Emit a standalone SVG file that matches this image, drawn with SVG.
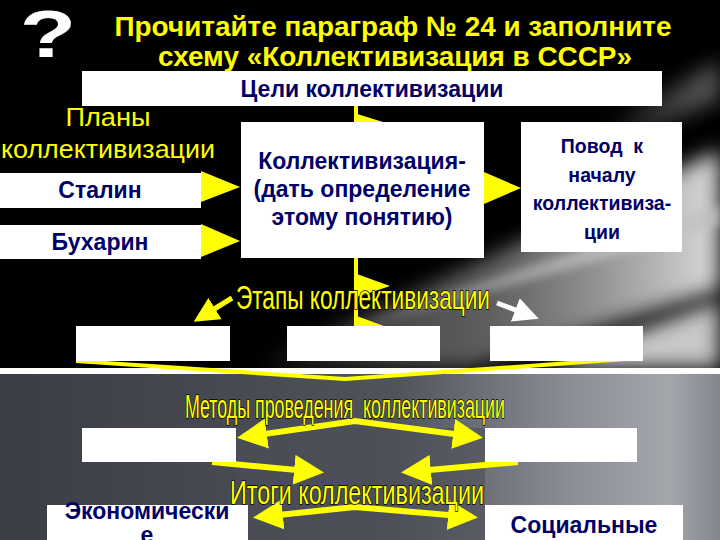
<svg xmlns="http://www.w3.org/2000/svg" width="720" height="540" viewBox="0 0 720 540">
<defs>
<style>
.box{fill:#ffffff}
.lbl{font-family:"Liberation Sans",Arial,sans-serif;font-weight:bold;font-size:23px;fill:#000066;text-anchor:middle}
.sm{font-size:19.5px}
.title{font-family:"Liberation Sans",Arial,sans-serif;font-weight:bold;font-size:28px;fill:#ffff00;text-anchor:middle}
.cap{font-family:"Liberation Sans",Arial,sans-serif;font-size:33px;fill:#ffff00;stroke:#000000;stroke-width:1.6;paint-order:stroke;text-anchor:middle}
.yl{stroke:#ffff00;fill:none}
.ytri{fill:#ffff00}
</style>
<linearGradient id="lowbg" x1="0" y1="0" x2="1" y2="0">
<stop offset="0" stop-color="#3a3d44"/>
<stop offset="0.55" stop-color="#50535b"/>
<stop offset="0.8" stop-color="#8d8f97"/>
<stop offset="0.93" stop-color="#a5a7ad"/>
<stop offset="1" stop-color="#83858c"/>
</linearGradient>
<linearGradient id="ray1" x1="0" y1="0" x2="1" y2="0">
<stop offset="0" stop-color="#ffffff" stop-opacity="0"/>
<stop offset="0.5" stop-color="#9a9a9a" stop-opacity="0.6"/>
<stop offset="1" stop-color="#dcdcdc" stop-opacity="1"/>
</linearGradient>
<linearGradient id="ray2" x1="0" y1="0" x2="1" y2="0">
<stop offset="0" stop-color="#ffffff" stop-opacity="0"/>
<stop offset="1" stop-color="#bdbdbd" stop-opacity="0.8"/>
</linearGradient>
<filter id="blur" x="-20%" y="-20%" width="140%" height="140%"><feGaussianBlur stdDeviation="10"/></filter>
<filter id="blur2" x="-20%" y="-20%" width="140%" height="140%"><feGaussianBlur stdDeviation="4"/></filter>
<marker id="ya" viewBox="0 0 10 10" refX="8" refY="5" markerWidth="5" markerHeight="5" orient="auto"><path d="M0,0 L10,5 L0,10 z" fill="#ffff00"/></marker>
<marker id="yb" viewBox="0 0 10 10" refX="8" refY="5" markerWidth="5" markerHeight="5" orient="auto-start-reverse"><path d="M0,0 L10,5 L0,10 z" fill="#ffff00"/></marker>
<marker id="wa" viewBox="0 0 10 10" refX="8" refY="5" markerWidth="5" markerHeight="5" orient="auto"><path d="M0,0 L10,5 L0,10 z" fill="#ffffff"/></marker>
</defs>

<!-- background -->
<rect x="0" y="0" width="720" height="368" fill="#000000"/>
<g id="rays">
<polygon points="250,368 720,150 720,290 470,368" fill="url(#ray1)" filter="url(#blur)"/>
<polygon points="330,330 720,205 720,225 360,330" fill="url(#ray2)" filter="url(#blur2)"/>
<polygon points="540,368 720,300 720,368" fill="#c8c8c8" filter="url(#blur)"/>
<polygon points="600,130 720,60 720,100 640,135" fill="url(#ray2)" filter="url(#blur)" opacity="0.6"/>
</g>
<rect x="0" y="368" width="720" height="6" fill="#ffffff"/>
<rect x="0" y="374" width="720" height="166" fill="url(#lowbg)"/>
<rect x="237" y="428" width="248" height="112" fill="#4c4f57" opacity="0.6"/>

<!-- title -->
<g id="title">
<text x="48" y="57" font-family="Liberation Sans,Arial,sans-serif" font-weight="bold" font-size="66" fill="#ffffff" text-anchor="middle" transform="translate(48 0) scale(1.4 1) translate(-48 0)">?</text>
<text class="title" x="393" y="36" textLength="557" lengthAdjust="spacingAndGlyphs">Прочитайте параграф № 24 и заполните</text>
<text class="title" x="395" y="66" textLength="474" lengthAdjust="spacingAndGlyphs">схему «Коллективизация в СССР»</text>
</g>

<!-- connectors -->
<g id="connectors">
<line class="yl" x1="356" y1="106" x2="356" y2="133" stroke-width="4"/>
<polygon class="ytri" points="354,113 383,122 354,133"/>
<polygon class="ytri" points="201,171 240,187 201,202"/>
<polygon class="ytri" points="201,224 240,241 201,257"/>
<polygon class="ytri" points="484,172 521,188 484,204"/>
<line class="yl" x1="356" y1="258" x2="356" y2="337" stroke-width="4"/>
<polygon class="ytri" points="354,273 390,286 354,298"/>
<polygon class="ytri" points="354,315 384,326 354,337"/>
<line class="yl" x1="232" y1="298" x2="198" y2="319" stroke-width="5" marker-end="url(#ya)"/>
<line x1="497" y1="303" x2="534" y2="317" stroke="#ffffff" stroke-width="5" marker-end="url(#wa)"/>
<polyline class="yl" points="76,361 345,379 640,358" stroke-width="4"/>
<polyline class="yl" points="243,437 355,421 477,437" stroke-width="6" marker-start="url(#yb)" marker-end="url(#ya)"/>
<line class="yl" x1="212" y1="462" x2="318" y2="472" stroke-width="6" marker-end="url(#ya)"/>
<line class="yl" x1="518" y1="462" x2="407" y2="472" stroke-width="6" marker-end="url(#ya)"/>
<polyline class="yl" points="259,517 355,507 472,517" stroke-width="6" marker-start="url(#yb)" marker-end="url(#ya)"/>
</g>

<!-- nodes -->
<g id="goals"><rect class="box" x="82" y="71" width="580" height="35"/><text class="lbl" x="372" y="97">Цели коллективизации</text></g>
<g id="plans"><text x="108" y="126" font-family="Liberation Sans,Arial,sans-serif" font-size="25" fill="#ffff00" text-anchor="middle" textLength="85" lengthAdjust="spacingAndGlyphs">Планы</text>
<text x="108" y="158" font-family="Liberation Sans,Arial,sans-serif" font-size="25" fill="#ffff00" text-anchor="middle" textLength="214" lengthAdjust="spacingAndGlyphs">коллективизации</text></g>
<g id="stalin"><rect class="box" x="0" y="173" width="201" height="35"/><text class="lbl" x="100" y="198">Сталин</text></g>
<g id="bukharin"><rect class="box" x="0" y="225" width="201" height="34"/><text class="lbl" x="100" y="250">Бухарин</text></g>
<g id="collectivization"><rect class="box" x="241" y="122" width="243" height="136"/>
<text class="lbl" x="362" y="169">Коллективизация-</text>
<text class="lbl" x="362" y="197">(дать определение</text>
<text class="lbl" x="362" y="225">этому понятию)</text></g>
<g id="reason"><rect class="box" x="521" y="122" width="161" height="130"/>
<text class="lbl sm" x="602" y="153" xml:space="preserve">Повод  к</text>
<text class="lbl sm" x="602" y="182">началу</text>
<text class="lbl sm" x="602" y="210">коллективиза-</text>
<text class="lbl sm" x="602" y="239">ции</text></g>
<g id="stages-label"><text class="cap" x="363" y="309" textLength="254" lengthAdjust="spacingAndGlyphs">Этапы коллективизации</text></g>
<g id="stage1"><rect class="box" x="76" y="326" width="154" height="35"/></g>
<g id="stage2"><rect class="box" x="287" y="326" width="153" height="35"/></g>
<g id="stage3"><rect class="box" x="490" y="326" width="153" height="35"/></g>
<g id="methods-label"><text class="cap" x="345" y="418" font-size="32" textLength="320" lengthAdjust="spacingAndGlyphs" xml:space="preserve">Методы проведения  коллективизации</text></g>
<g id="method1"><rect class="box" x="82" y="428" width="154" height="34"/></g>
<g id="method2"><rect class="box" x="485" y="428" width="152" height="34"/></g>
<g id="results-label"><text class="cap" x="357" y="504" textLength="254" lengthAdjust="spacingAndGlyphs">Итоги коллективизации</text></g>
<g id="economic"><rect class="box" x="47" y="505" width="201" height="35"/>
<text class="lbl" x="147" y="519">Экономически</text><text class="lbl" x="147" y="543">е</text></g>
<g id="social"><rect class="box" x="485" y="505" width="198" height="35"/>
<text class="lbl" x="584" y="533">Социальные</text></g>
</svg>
